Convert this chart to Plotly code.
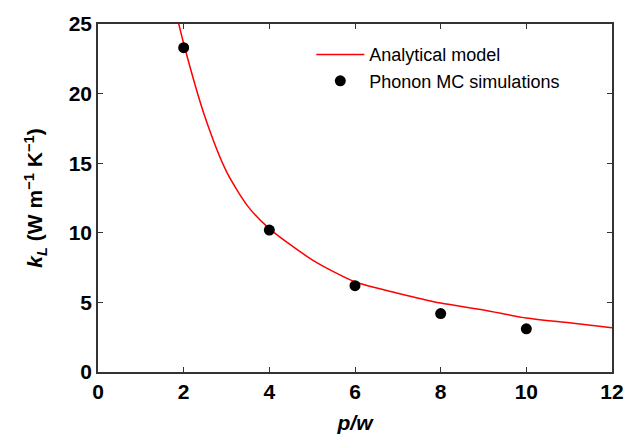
import plotly.graph_objects as go

# Analytical model curve
model_x = [1.5, 2.0, 2.5, 3.0, 3.5, 4.0, 5.0, 6.0, 7.0, 8.0, 9.0, 10.0, 11.0, 12.0]
model_y = [30.0, 23.6, 18.3, 14.4, 11.9, 10.3, 8.06, 6.48, 5.66, 4.95, 4.46, 3.88, 3.53, 3.18]

# Phonon MC simulations
mc_x = [2, 4, 6, 8, 10]
mc_y = [23.3, 10.2, 6.2, 4.2, 3.1]

x_ticks = [0, 2, 4, 6, 8, 10, 12]
y_ticks = [0, 5, 10, 15, 20, 25]

FONT = "Liberation Sans, Arial, sans-serif"

fig = go.Figure()
fig.add_trace(go.Scatter(x=model_x, y=model_y, mode="lines",
                         line=dict(color="#ff0000", width=1.5, shape="spline", smoothing=0.7),
                         name="Analytical model"))
fig.add_trace(go.Scatter(x=mc_x, y=mc_y, mode="markers",
                         marker=dict(color="black", size=11),
                         name="Phonon MC simulations"))

axis_common = dict(showline=True, linecolor="#333333", linewidth=1.5, mirror="ticks",
                   ticks="inside", ticklen=5, tickwidth=1.2, tickcolor="#333333",
                   showgrid=False, zeroline=False,
                   tickfont=dict(family=FONT, size=21, color="black", weight="bold"))

fig.update_xaxes(range=[0, 12], tickvals=x_ticks, **axis_common,
                 title=dict(text="<b><i>p/w</i></b>", font=dict(family=FONT, size=21, color="black"),
                            standoff=13))
fig.update_yaxes(range=[0, 25], tickvals=y_ticks, **axis_common,
                 title=dict(text="<b><i>k</i><sub><i>L</i></sub> (W m<sup>\u22121</sup> K<sup>\u22121</sup>)</b>",
                            font=dict(family=FONT, size=21, color="black"), standoff=20))

fig.update_layout(
    width=644, height=443,
    margin=dict(l=98, r=32, t=15, b=69),
    plot_bgcolor="white", paper_bgcolor="white",
    showlegend=True,
    legend=dict(x=0.415, y=0.965, xanchor="left", yanchor="top",
                bgcolor="rgba(0,0,0,0)", tracegroupgap=0, itemwidth=48,
                font=dict(family=FONT, size=18, color="black")),
)

fig.write_html("out.html")
